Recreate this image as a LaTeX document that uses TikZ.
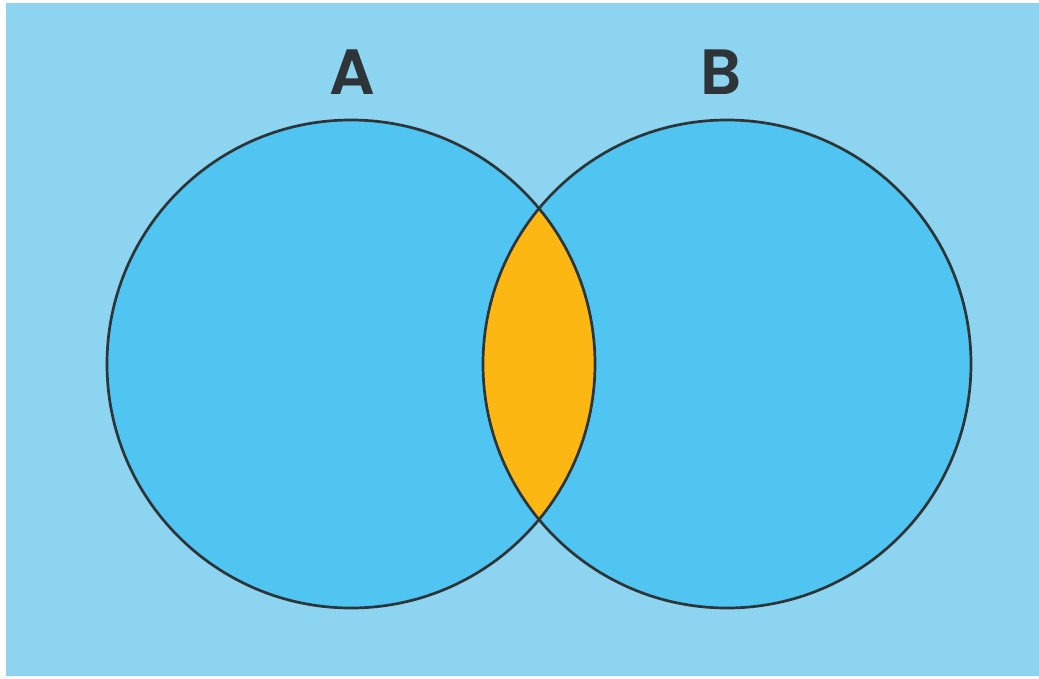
\documentclass[tikz,border=0pt]{standalone}
\usepackage{fontspec}
\setmainfont{Poppins}[BoldFont={Poppins SemiBold}]
\definecolor{bgblue}{HTML}{8DD4F0}
\definecolor{setblue}{HTML}{50C5F2}
\definecolor{lensorange}{HTML}{FDB713}
\definecolor{inkgray}{HTML}{2E3538}
\begin{document}
\begin{tikzpicture}[x=1pt, y=-1pt]
\def\r{244}

\useasboundingbox (0, 0) rectangle (1039, 678);
\fill [white] (0, 0) rectangle (1039, 678);
\fill [bgblue] (6, 3) rectangle (1039, 676);

\coordinate (ca) at (351, 364);
\coordinate (cb) at (727, 364);

\fill [setblue] (ca) circle [radius=\r];
\fill [setblue] (cb) circle [radius=\r];
\begin{scope}
\clip (ca) circle [radius=\r];
\fill [lensorange] (cb) circle [radius=\r];
\end{scope}

\draw [inkgray, line width=2.7pt] (ca) circle [radius=\r];
\draw [inkgray, line width=2.7pt] (cb) circle [radius=\r];

\node (la) [text=inkgray, font=\bfseries\fontsize{64}{64}\selectfont] at (352, 72) {A};
\node (lb) [text=inkgray, font=\bfseries\fontsize{64}{64}\selectfont] at (721, 72) {B};
\end{tikzpicture}
\end{document}
